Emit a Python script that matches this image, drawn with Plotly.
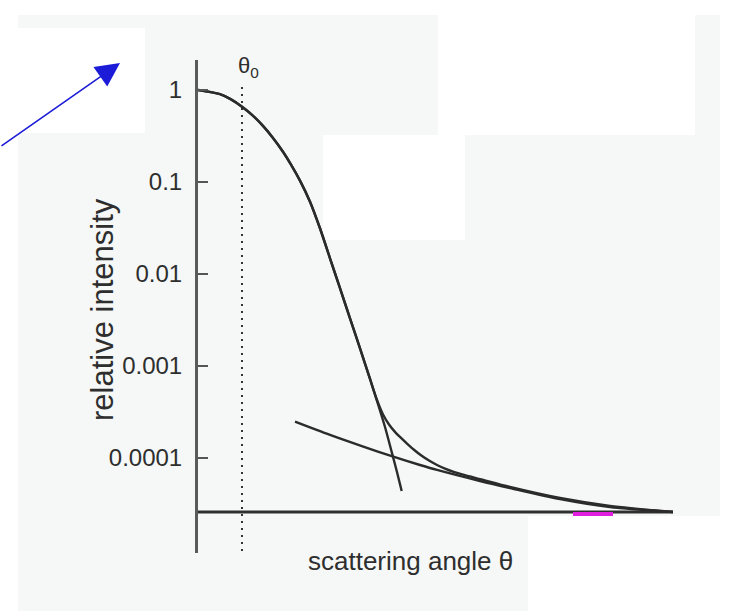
import plotly.graph_objects as go

# ---- data (scattering angle in arbitrary units, log intensity) ----
theta_total = [0, 0.463, 0.695, 0.926, 1.137, 1.368, 1.579, 1.789, 1.958, 2.147, 2.358, 2.568,
               2.779, 2.989, 3.2, 3.411, 3.621, 3.768, 3.895, 4.021, 4.147, 4.274, 4.400,
               4.547, 4.695, 4.863, 5.032, 5.200, 5.368, 5.621, 5.937, 6.568, 7.621, 8.674, 10.0]
I_total = [1.0, 0.900, 0.790, 0.658, 0.537, 0.407, 0.301, 0.213, 0.1545, 0.1035, 0.0611, 0.0314,
           0.01482, 0.00700, 0.00330, 0.001556, 7.22e-4, 4.27e-4, 2.97e-4, 2.31e-4, 1.92e-4,
           1.65e-4, 1.435e-4, 1.228e-4, 1.069e-4, 9.37e-5, 8.39e-5, 7.67e-5, 7.11e-5, 6.50e-5,
           5.90e-5, 4.84e-5, 3.67e-5, 3.01e-5, 2.59e-5]

theta_core = [0, 0.463, 0.695, 0.926, 1.137, 1.368, 1.579, 1.789, 1.958, 2.147, 2.358, 2.568,
              2.779, 2.989, 3.2, 3.411, 3.621, 3.789, 3.937, 4.084, 4.189, 4.288]
I_core = [1.0, 0.900, 0.790, 0.658, 0.537, 0.407, 0.301, 0.213, 0.1545, 0.1035, 0.0611, 0.0314,
          0.01482, 0.00700, 0.00330, 0.001556, 7.22e-4, 3.86e-4, 2.17e-4, 1.13e-4, 7.05e-5, 4.38e-5]

theta_tail = [2.042, 2.779, 3.480, 4.112, 4.674, 5.032, 5.937, 6.568, 7.621, 8.674, 10.0]
I_tail = [2.48e-4, 1.778e-4, 1.327e-4, 1.033e-4, 8.39e-5, 7.41e-5, 5.62e-5, 4.72e-5, 3.58e-5,
          2.93e-5, 2.59e-5]

theta_axis = [0, 10.0]
I_axis = [2.59e-5, 2.59e-5]

theta0 = [0.926, 0.926]
I_theta0 = [1.08, 9.75e-6]

theta_mark = [7.895, 8.737]
I_mark = [2.46e-5, 2.46e-5]

tick_vals = [1, 0.1, 0.01, 0.001, 0.0001]
tick_text = ["1", "0.1", "0.01", "0.001", "0.0001"]

FONT = "Liberation Sans, Arial, Helvetica, sans-serif"
INK = "#2b2b2b"
TXT = "#2e2e2e"

fig = go.Figure()

# theta_0 dotted marker line
fig.add_trace(go.Scatter(x=theta0, y=I_theta0, mode="lines",
                         line=dict(color="#333333", width=2, dash="2px,5px"),
                         hoverinfo="skip", showlegend=False, cliponaxis=False))
# horizontal baseline
fig.add_trace(go.Scatter(x=theta_axis, y=I_axis, mode="lines",
                         line=dict(color="#303030", width=3),
                         hoverinfo="skip", showlegend=False, cliponaxis=False))
# magenta mark
fig.add_trace(go.Scatter(x=theta_mark, y=I_mark, mode="lines",
                         line=dict(color="#e01ee0", width=4),
                         hoverinfo="skip", showlegend=False, cliponaxis=False))
# core (gaussian) curve
fig.add_trace(go.Scatter(x=theta_core, y=I_core, mode="lines",
                         line=dict(color=INK, width=2.4, shape="spline", smoothing=0.8),
                         showlegend=False, cliponaxis=False))
# tail curve
fig.add_trace(go.Scatter(x=theta_tail, y=I_tail, mode="lines",
                         line=dict(color=INK, width=2.4, shape="spline", smoothing=0.8),
                         showlegend=False, cliponaxis=False))
# total curve
fig.add_trace(go.Scatter(x=theta_total, y=I_total, mode="lines",
                         line=dict(color=INK, width=2.4, shape="spline", smoothing=0.8),
                         showlegend=False, cliponaxis=False))

# background patches (scanned page look)
L, T = 198.0, 60.0
W, H = 475.0, 493.0
def px(xp):
    return (xp - L) / W
def py(yp):
    return (T + H - yp) / H

shapes = [
    dict(type="rect", xref="paper", yref="paper", x0=px(18), x1=px(720), y0=py(15), y1=py(611),
         fillcolor="#f5f8f6", line=dict(width=0), layer="below"),
    dict(type="rect", xref="paper", yref="paper", x0=px(0), x1=px(145), y0=py(28), y1=py(133),
         fillcolor="#ffffff", line=dict(width=0), layer="below"),
    dict(type="rect", xref="paper", yref="paper", x0=px(438), x1=px(695), y0=py(0), y1=py(135),
         fillcolor="#ffffff", line=dict(width=0), layer="below"),
    dict(type="rect", xref="paper", yref="paper", x0=px(323), x1=px(465), y0=py(135), y1=py(240),
         fillcolor="#ffffff", line=dict(width=0), layer="below"),
    dict(type="rect", xref="paper", yref="paper", x0=px(528), x1=px(730), y0=py(516), y1=py(612),
         fillcolor="#ffffff", line=dict(width=0), layer="below"),
]

annotations = [
    dict(xref="x", yref="paper", x=0.926, y=py(67), text="θ<sub>0</sub>", showarrow=False,
         font=dict(family=FONT, size=22, color=TXT), xanchor="left", xshift=-6, yanchor="middle"),
    dict(xref="paper", yref="paper", x=px(102), y=py(310), text="relative intensity", textangle=-90,
         showarrow=False, font=dict(family=FONT, size=31, color=TXT),
         xanchor="center", yanchor="middle"),
    dict(xref="paper", yref="paper", x=px(410), y=py(561), text="scattering angle θ",
         showarrow=False, font=dict(family=FONT, size=26, color=TXT),
         xanchor="center", yanchor="middle"),
    dict(xref="paper", yref="paper", x=px(120), y=py(63), text="", showarrow=True,
         ax=-122, ay=84, arrowhead=2, arrowsize=3.0, arrowwidth=1.6, arrowcolor="#1c1cd8"),
]

fig.update_layout(
    width=730, height=612,
    margin=dict(l=198, r=57, t=60, b=59),
    paper_bgcolor="#ffffff",
    plot_bgcolor="rgba(0,0,0,0)",
    shapes=shapes,
    annotations=annotations,
    showlegend=False,
    xaxis=dict(range=[0, 10], showline=False, showgrid=False, zeroline=False,
               showticklabels=False, ticks=""),
    yaxis=dict(type="log", range=[-5.033, 0.326], showline=True, linecolor="#5a5a5a", linewidth=3,
               showgrid=False, zeroline=False, ticks="inside", ticklen=10, tickwidth=2,
               tickcolor="#555555", tickvals=tick_vals, ticktext=tick_text,
               tickfont=dict(family=FONT, size=24, color=TXT), ticklabelstandoff=8),
)

fig.write_html("out.html")
